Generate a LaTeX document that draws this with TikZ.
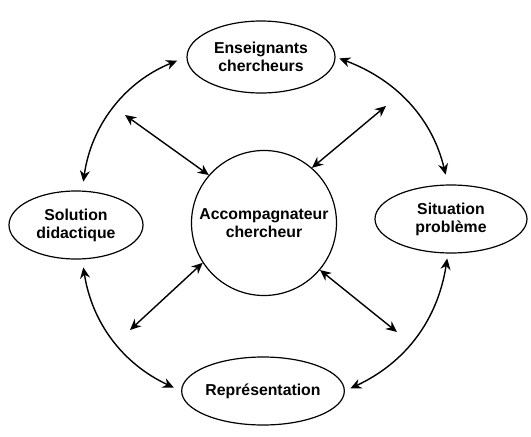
\documentclass[tikz,border=0pt]{standalone}
\usepackage{fontspec}
\setmainfont{Liberation Sans}
\usetikzlibrary{shapes.geometric,arrows.meta}
\begin{document}
\begin{tikzpicture}[x=1pt,y=-1pt,
  lbl/.style={font=\fontsize{15.8}{18}\selectfont\bfseries, align=center},
  oval/.style={lbl, draw, line width=1.2pt, ellipse, inner sep=0pt},
  link/.style={line width=1.4pt, {Stealth[length=11pt,width=10pt]}-{Stealth[length=11pt,width=10pt]}}
]
\useasboundingbox (0,0) rectangle (531,437);
\node[oval, minimum width=148pt, minimum height=72pt] (top) at (261,57) {Enseignants\\chercheurs};
\node[oval, minimum width=134pt, minimum height=68pt] (left) at (76,225) {Solution\\didactique};
\node[oval, minimum width=152pt, minimum height=68pt] (right) at (451,219) {Situation\\problème};
\node[oval, minimum width=142pt, minimum height=68pt] (bottom) at (263,391) {Représentation};
\node[lbl, draw, circle, line width=1.2pt, minimum size=145pt, inner sep=0pt] (circ) at (264,223) {Accompagnateur\\chercheur};

\coordinate (ul) at (125,115);
\coordinate (ur) at (386,106);
\coordinate (ll) at (130,330);
\coordinate (lr) at (397,332);
\draw[link] (ul) -- (circ.139);
\draw[link] (ur) -- (circ.49);
\draw[link] (ll) -- (circ.213);
\draw[link] (lr) -- (circ.320);

\draw[link, shorten <=10pt, shorten >=9pt] (top.west) to[bend right=30] (left.80);
\draw[link, shorten <=4pt, shorten >=10pt] (top.east) to[bend left=28] (right.95);
\draw[link, shorten <=5pt, shorten >=6pt] (right.265) to[bend left=28] (bottom.east);
\draw[link, shorten <=8pt, shorten >=8pt] (left.280) to[bend right=28] (bottom.west);
\end{tikzpicture}
\end{document}
